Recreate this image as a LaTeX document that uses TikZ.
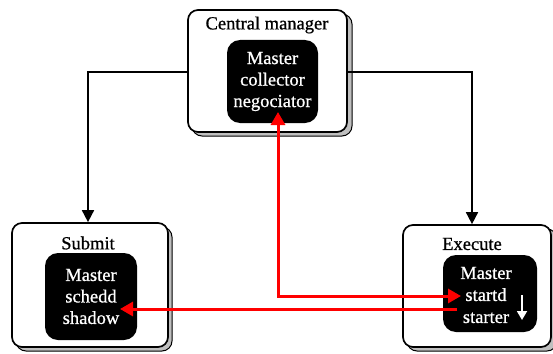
\documentclass[tikz,border=0pt]{standalone}
\usepackage{fontspec}
\setmainfont{Liberation Serif}[FakeBold=0.8]
\usetikzlibrary{arrows.meta,calc}
\begin{document}
\begin{tikzpicture}[x=1pt,y=-1pt,
  hostbox/.style={draw=black,line width=1.7pt,fill=white,rounded corners=10pt,inner sep=0pt},
  hostshadow/.style={fill=black!25,draw=black,line width=1pt,rounded corners=10pt},
  daemons/.style={fill=black,text=white,rounded corners=13pt,inner sep=0pt,
    align=center,font=\fontsize{18.5}{21.5}\selectfont},
  hosttitle/.style={font=\fontsize{18.5}{21}\selectfont,inner sep=0pt},
  link/.style={line width=1.7pt,-{Triangle[length=12pt,width=12pt]}},
  msgline/.style={draw=red,line width=3pt},
  msgtip/.tip={Triangle[length=13pt,width=14pt]},
]
\useasboundingbox (0,0) rectangle (553,353);

% host machines with their shadows
\draw[hostshadow] (192,14) rectangle (352,136);
\node[hostbox,minimum width=159pt,minimum height=122pt] (cm) at (267.5,71) {};
\draw[hostshadow] (16,227) rectangle (172,351);
\node[hostbox,minimum width=156pt,minimum height=124pt] (sub) at (90,285) {};
\draw[hostshadow] (407,229) rectangle (557,351);
\node[hostbox,minimum width=148pt,minimum height=122pt] (ex) at (477,286) {};

% host titles
\node[hosttitle] (cmt) at (267,25) {Central manager};
\node[hosttitle] (subt) at (88,243) {Submit};
\node[hosttitle] (ext) at (472,244) {Execute};

% daemon groups
\node[daemons,minimum width=91pt,minimum height=83pt] (cmd) at (272.5,81.5) {Master\\collector\\negociator};
\node[daemons,minimum width=92pt,minimum height=87pt] (subd) at (91,296.5) {Master\\schedd\\shadow};
\node[daemons,minimum width=94pt,minimum height=77pt] (exd) at (490,293.5) {};
\node[font=\fontsize{18.5}{22}\selectfont,text=white,align=center,inner sep=0pt] (exdt) at (486,295) {Master\\startd\\starter};
\coordinate (startdtop) at (522,295);
\coordinate (startdbot) at (522,320);
\draw[white,line width=1.8pt,-{Triangle[length=9pt,width=10pt]}] (startdtop) -- (startdbot);

% connections from the central manager
\coordinate (lcorner) at (88,72);
\coordinate (rcorner) at (472,72);
\draw[link] (cm.west |- lcorner) -- (lcorner) -- (sub.north -| lcorner);
\draw[link] (cm.east |- rcorner) -- (rcorner) -- (ex.north -| rcorner);

% messages between the daemons
\coordinate (negIn) at (278,112);
\coordinate (bend) at (278,296);
\coordinate (stIn) at (461,296);
\coordinate (shOut) at (457,309);
\coordinate (shIn) at (120,309);
\draw[msgline,msgtip-msgtip] (negIn) -- (bend) -- (stIn);
\draw[msgline,-msgtip] (shOut) -- (shIn);
\end{tikzpicture}
\end{document}
